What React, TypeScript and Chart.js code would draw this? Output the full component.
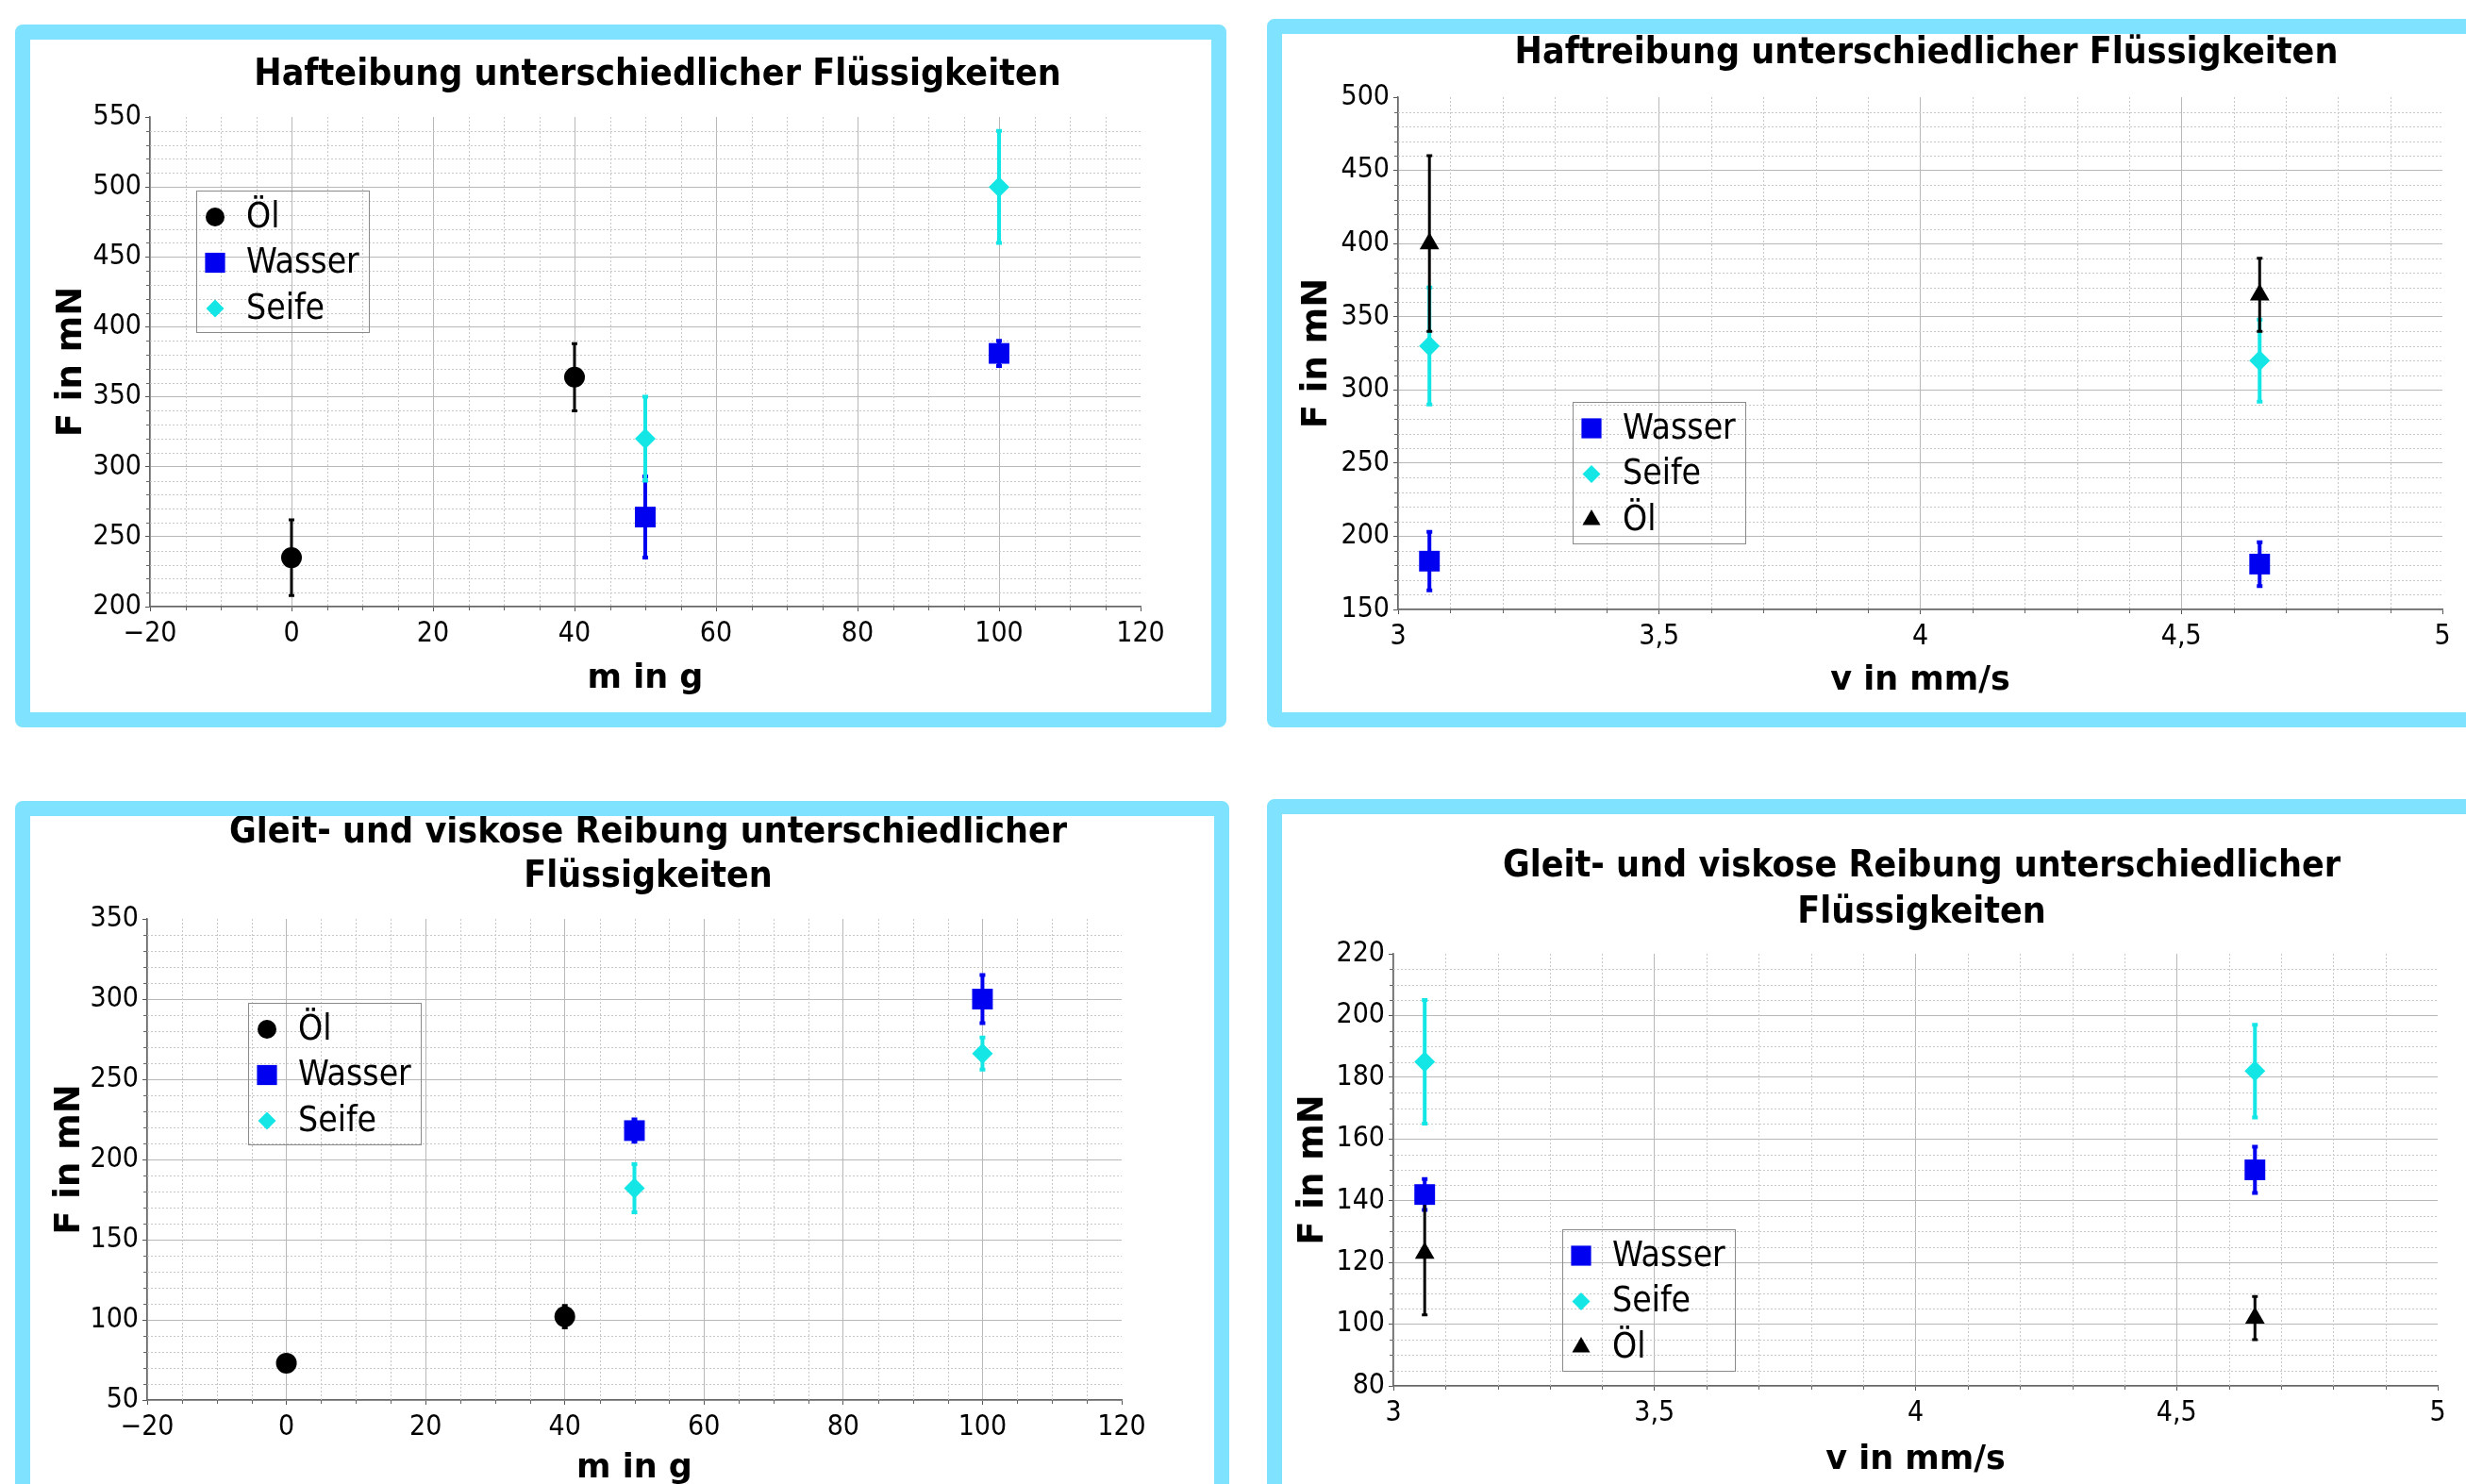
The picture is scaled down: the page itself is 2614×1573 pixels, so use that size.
import React, { useEffect, useRef } from 'react';
import { Chart, registerables } from 'chart.js';
import { drawPoint } from 'chart.js/helpers';

Chart.register(...registerables);

// ---------------- data ----------------
// x values
const massOel = [0, 40];
const massWasser = [50, 100];
const massSeife = [50, 100];
const speeds = [3.06, 4.65];

// Haftreibung vs. Masse (mN)
const haftOelM = [235, 364];
const haftOelMErr = [27, 24];
const haftWasserM = [264, 381];
const haftWasserMErr = [29, 9];
const haftSeifeM = [320, 500];
const haftSeifeMErr = [30, 40];

// Haftreibung vs. Geschwindigkeit (mN)
const haftWasserV = [183, 181];
const haftWasserVErr = [20, 15];
const haftSeifeV = [330, 320];
const haftSeifeVErr = [40, 28];
const haftOelV = [400, 365];
const haftOelVErr = [60, 25];

// Gleit- und viskose Reibung vs. Masse (mN)
const gleitOelM = [73, 102];
const gleitOelMErr = [3, 7];
const gleitWasserM = [218, 300];
const gleitWasserMErr = [7, 15];
const gleitSeifeM = [182, 266];
const gleitSeifeMErr = [15, 10];

// Gleit- und viskose Reibung vs. Geschwindigkeit (mN)
const gleitWasserV = [142, 150];
const gleitWasserVErr = [5, 7.5];
const gleitSeifeV = [185, 182];
const gleitSeifeVErr = [20, 15];
const gleitOelV = [123, 102];
const gleitOelVErr = [20, 7];

// tick labels
const massTicks = [-20, 0, 20, 40, 60, 80, 100, 120];
const speedTicks = [3, 3.5, 4, 4.5, 5];
const haftMassTicks = [200, 250, 300, 350, 400, 450, 500, 550];
const haftSpeedTicks = [150, 200, 250, 300, 350, 400, 450, 500];
const gleitMassTicks = [50, 100, 150, 200, 250, 300, 350];
const gleitSpeedTicks = [80, 100, 120, 140, 160, 180, 200, 220];

// texts
const titleHaftMass = ['Hafteibung unterschiedlicher Flüssigkeiten'];
const titleHaftSpeed = ['Haftreibung unterschiedlicher Flüssigkeiten'];
const titleGleit = ['Gleit- und viskose Reibung unterschiedlicher', 'Flüssigkeiten'];
const xTitleMass = 'm in g';
const xTitleSpeed = 'v in mm/s';
const yTitle = 'F in mN';

// ---------------- styles ----------------
const OEL_CIRCLE = { label: 'Öl', color: '#000000', style: 'circle', radius: 11, legendRadius: 10, bar: 3 };
const OEL_TRI = { label: 'Öl', color: '#000000', style: 'triangle', radius: 12, legendRadius: 11, bar: 3 };
const WASSER = { label: 'Wasser', color: '#0000f0', style: 'rect', radius: 15.5, legendRadius: 15, bar: 4 };
const SEIFE = { label: 'Seife', color: '#14e6e6', style: 'rectRot', radius: 11, legendRadius: 9.5, bar: 4 };

const TICK_FAMILY = "'DejaVu Sans Condensed', 'DejaVu Sans', sans-serif";
const TITLE_FAMILY = "'DejaVu Sans Condensed', 'DejaVu Sans', sans-serif";
const AXIS_FAMILY = "'DejaVu Sans', sans-serif";

const fmt = (v: number) => String(Math.round(v * 1000) / 1000).replace('.', ',').replace('-', '\u2212');

// ---------------- plugins ----------------
const minorGridPlugin = {
  id: 'minorGrid',
  beforeDatasetsDraw(chart: any, _a: any, opts: any) {
    const { ctx, chartArea: a, scales } = chart;
    const xs = scales.x;
    const ys = scales.y;
    const near = (v: number, step: number) => Math.abs(v / step - Math.round(v / step)) < 1e-6;
    ctx.save();
    ctx.lineWidth = 1;
    const n = Math.round((xs.max - xs.min) / opts.xStep);
    for (let i = 1; i < n; i++) {
      const v = xs.min + i * opts.xStep;
      if (near(v - xs.min, opts.xMajor)) continue;
      const px = Math.round(xs.getPixelForValue(v)) + 0.5;
      ctx.setLineDash([2, 2]);
      ctx.strokeStyle = '#c8c8c8';
      ctx.beginPath(); ctx.moveTo(px, a.top); ctx.lineTo(px, a.bottom); ctx.stroke();
      ctx.setLineDash([]);
      ctx.strokeStyle = '#666';
      ctx.beginPath(); ctx.moveTo(px, a.bottom); ctx.lineTo(px, a.bottom + 4); ctx.stroke();
    }
    const m = Math.round((ys.max - ys.min) / opts.yStep);
    for (let i = 1; i < m; i++) {
      const v = ys.min + i * opts.yStep;
      if (near(v - ys.min, opts.yMajor)) continue;
      const py = Math.round(ys.getPixelForValue(v)) + 0.5;
      ctx.setLineDash([2, 2]);
      ctx.strokeStyle = '#c8c8c8';
      ctx.beginPath(); ctx.moveTo(a.left, py); ctx.lineTo(a.right, py); ctx.stroke();
      ctx.setLineDash([]);
      ctx.strokeStyle = '#666';
      ctx.beginPath(); ctx.moveTo(a.left - 4, py); ctx.lineTo(a.left, py); ctx.stroke();
    }
    ctx.restore();
  },
};

const errorBarPlugin = {
  id: 'errorBars',
  beforeDatasetsDraw(chart: any) {
    const { ctx } = chart;
    const ys = chart.scales.y;
    chart.data.datasets.forEach((ds: any, di: number) => {
      const meta = chart.getDatasetMeta(di);
      ctx.save();
      ctx.strokeStyle = ds.errorColor;
      ctx.lineWidth = ds.errorWidth;
      meta.data.forEach((el: any, i: number) => {
        const val = ds.data[i].y;
        const e = ds.errors[i];
        const top = ys.getPixelForValue(val + e);
        const bot = ys.getPixelForValue(val - e);
        ctx.beginPath();
        ctx.moveTo(el.x, top);
        ctx.lineTo(el.x, bot);
        ctx.moveTo(el.x - 3, top);
        ctx.lineTo(el.x + 3, top);
        ctx.moveTo(el.x - 3, bot);
        ctx.lineTo(el.x + 3, bot);
        ctx.stroke();
      });
      ctx.restore();
    });
  },
};

const boxLegendPlugin = {
  id: 'boxLegend',
  afterDatasetsDraw(chart: any, _a: any, opts: any) {
    const { ctx } = chart;
    ctx.save();
    ctx.strokeStyle = '#8a8a8a';
    ctx.lineWidth = 1;
    ctx.strokeRect(Math.round(opts.x) + 0.5, Math.round(opts.y) + 0.5, opts.w, opts.h);
    ctx.font = `37px ${TICK_FAMILY}`;
    ctx.textBaseline = 'middle';
    ctx.textAlign = 'left';
    chart.data.datasets.forEach((ds: any, i: number) => {
      const cy = opts.y + opts.first + i * opts.row;
      ctx.fillStyle = ds.errorColor;
      drawPoint(ctx, { pointStyle: ds.pointStyle, radius: ds.legendRadius, rotation: 0, borderWidth: 0 } as any, opts.x + opts.markerX, cy);
      ctx.fillStyle = '#000';
      ctx.fillText(ds.label, opts.x + opts.textX, cy + 1);
    });
    ctx.restore();
  },
};

const panelTitlePlugin = {
  id: 'panelTitle',
  afterDraw(chart: any, _a: any, opts: any) {
    const { ctx } = chart;
    ctx.save();
    ctx.font = `bold 39px ${TITLE_FAMILY}`;
    ctx.fillStyle = '#000';
    ctx.textAlign = 'center';
    ctx.textBaseline = 'middle';
    opts.lines.forEach((line: string, i: number) => {
      ctx.fillText(line, opts.x, opts.y + i * opts.lineHeight);
    });
    ctx.restore();
  },
};

// ---------------- chart builder ----------------
type Series = { s: any; xs: number[]; ys: number[]; errs: number[] };

function makeDataset(d: Series) {
  return {
    label: d.s.label,
    data: d.xs.map((x, i) => ({ x, y: d.ys[i] })),
    errors: d.errs,
    errorColor: d.s.color,
    errorWidth: d.s.bar,
    legendRadius: d.s.legendRadius,
    pointStyle: d.s.style,
    pointRadius: d.s.radius,
    pointHoverRadius: d.s.radius,
    pointBackgroundColor: d.s.color,
    pointBorderColor: d.s.color,
    pointBorderWidth: 0,
    showLine: false,
  };
}

function axis(ticks: number[], afterFit: (s: any) => void, title: any, tickPad: number) {
  const min = ticks[0];
  const max = ticks[ticks.length - 1];
  return {
    type: 'linear',
    min,
    max,
    ticks: {
      stepSize: ticks[1] - ticks[0],
      autoSkip: false,
      maxRotation: 0,
      padding: tickPad,
      color: '#000',
      font: { family: TICK_FAMILY, size: 30 },
      callback: (v: number) => fmt(v),
    },
    grid: {
      color: (c: any) => (c.tick && Math.abs(c.tick.value - max) < 1e-9 ? 'rgba(0,0,0,0)' : '#b8b8b8'),
      lineWidth: 1,
      tickColor: '#555',
      tickLength: 5,
    },
    border: { color: '#666', width: 1.5 },
    title,
    afterFit,
  };
}

type PanelCfg = {
  left: number; top: number; w: number; h: number;
  title: string[]; titleX: number; titleY: number; titleLH: number;
  padTop: number; padRight: number;
  yWidth: number; xHeight: number;
  yTitlePad: number; xTitlePad: number;
  xTicks: number[]; xMinor: number; yTicks: number[]; yMinor: number;
  xTitle: string;
  legend: { x: number; y: number };
  series: Series[];
};

function buildConfig(p: PanelCfg): any {
  const xAxis: any = axis(
    p.xTicks,
    (s: any) => { s.height = p.xHeight; },
    { display: true, text: p.xTitle, color: '#000', font: { family: AXIS_FAMILY, weight: 'bold', size: 35, lineHeight: 1.2 }, padding: { top: 0, bottom: p.xTitlePad } },
    6,
  );
  xAxis.position = 'bottom';
  const yAxis: any = axis(
    p.yTicks,
    (s: any) => { s.width = p.yWidth; },
    { display: true, text: yTitle, color: '#000', font: { family: AXIS_FAMILY, weight: 'bold', size: 37, lineHeight: 1.2 }, padding: { top: p.yTitlePad, bottom: 0 } },
    4,
  );
  yAxis.position = 'left';
  return {
    type: 'scatter',
    data: { datasets: p.series.map(makeDataset) },
    options: {
      animation: false,
      responsive: false,
      devicePixelRatio: 1,
      events: [],
      layout: { padding: { left: 0, right: p.padRight, top: p.padTop, bottom: 0 } },
      plugins: {
        legend: { display: false },
        tooltip: { enabled: false },
        title: { display: false },
        panelTitle: { lines: p.title, x: p.titleX, y: p.titleY, lineHeight: p.titleLH },
        minorGrid: {
          xStep: p.xMinor, xMajor: p.xTicks[1] - p.xTicks[0],
          yStep: p.yMinor, yMajor: p.yTicks[1] - p.yTicks[0],
        },
        boxLegend: { x: p.legend.x, y: p.legend.y, w: 183, h: 150, first: 28, row: 48.5, markerX: 20, textX: 53 },
      },
      scales: { x: xAxis, y: yAxis },
    },
    plugins: [minorGridPlugin, errorBarPlugin, boxLegendPlugin, panelTitlePlugin],
  };
}

const panels: PanelCfg[] = [
  {
    left: 16, top: 26, w: 1252, h: 713,
    title: titleHaftMass, titleX: 665, titleY: 37.5, titleLH: 47,
    padTop: 82, padRight: 75, yWidth: 127, xHeight: 112, yTitlePad: 22, xTitlePad: 14,
    xTicks: massTicks, xMinor: 5, yTicks: haftMassTicks, yMinor: 10,
    xTitle: xTitleMass, legend: { x: 176, y: 160 },
    series: [
      { s: OEL_CIRCLE, xs: massOel, ys: haftOelM, errs: haftOelMErr },
      { s: WASSER, xs: massWasser, ys: haftWasserM, errs: haftWasserMErr },
      { s: SEIFE, xs: massSeife, ys: haftSeifeM, errs: haftSeifeMErr },
    ],
  },
  {
    left: 1343, top: 20, w: 1255, h: 719,
    title: titleHaftSpeed, titleX: 683, titleY: 21, titleLH: 47,
    padTop: 67, padRight: 25, yWidth: 123, xHeight: 109, yTitlePad: 15, xTitlePad: 12,
    xTicks: speedTicks, xMinor: 0.1, yTicks: haftSpeedTicks, yMinor: 10,
    xTitle: xTitleSpeed, legend: { x: 308, y: 390 },
    series: [
      { s: WASSER, xs: speeds, ys: haftWasserV, errs: haftWasserVErr },
      { s: SEIFE, xs: speeds, ys: haftSeifeV, errs: haftSeifeVErr },
      { s: OEL_TRI, xs: speeds, ys: haftOelV, errs: haftOelVErr },
    ],
  },
  {
    left: 16, top: 849, w: 1255, h: 708,
    title: titleGleit, titleX: 655, titleY: 18, titleLH: 47,
    padTop: 109, padRight: 98, yWidth: 124, xHeight: 89, yTitlePad: 20, xTitlePad: -5,
    xTicks: massTicks, xMinor: 5, yTicks: gleitMassTicks, yMinor: 10,
    xTitle: xTitleMass, legend: { x: 231, y: 198 },
    series: [
      { s: OEL_CIRCLE, xs: massOel, ys: gleitOelM, errs: gleitOelMErr },
      { s: WASSER, xs: massWasser, ys: gleitWasserM, errs: gleitWasserMErr },
      { s: SEIFE, xs: massSeife, ys: gleitSeifeM, errs: gleitSeifeMErr },
    ],
  },
  {
    left: 1343, top: 847, w: 1255, h: 710,
    title: titleGleit, titleX: 678, titleY: 56, titleLH: 49,
    padTop: 148, padRight: 30, yWidth: 118, xHeight: 104, yTitlePad: 11, xTitlePad: 4,
    xTicks: speedTicks, xMinor: 0.1, yTicks: gleitSpeedTicks, yMinor: 5,
    xTitle: xTitleSpeed, legend: { x: 297, y: 440 },
    series: [
      { s: WASSER, xs: speeds, ys: gleitWasserV, errs: gleitWasserVErr },
      { s: SEIFE, xs: speeds, ys: gleitSeifeV, errs: gleitSeifeVErr },
      { s: OEL_TRI, xs: speeds, ys: gleitOelV, errs: gleitOelVErr },
    ],
  },
];

function Panel({ cfg }: { cfg: PanelCfg }) {
  const ref = useRef<HTMLCanvasElement | null>(null);
  useEffect(() => {
    if (!ref.current) return;
    const chart = new Chart(ref.current, buildConfig(cfg));
    return () => chart.destroy();
  }, [cfg]);
  return (
    <div
      style={{
        position: 'absolute',
        left: cfg.left,
        top: cfg.top,
        width: cfg.w,
        height: cfg.h,
        border: '16px solid #7fe2fe',
        borderRadius: 8,
        background: '#fff',
        boxSizing: 'content-box',
      }}
    >
      <canvas ref={ref} width={cfg.w} height={cfg.h} style={{ display: 'block' }} />
    </div>
  );
}

export default function App() {
  return (
    <div
      style={{
        position: 'absolute',
        left: 0,
        top: 0,
        width: 2614,
        height: 1573,
        overflow: 'hidden',
        background: '#fff',
      }}
    >
      {panels.map((p, i) => (
        <Panel key={i} cfg={p} />
      ))}
    </div>
  );
}
